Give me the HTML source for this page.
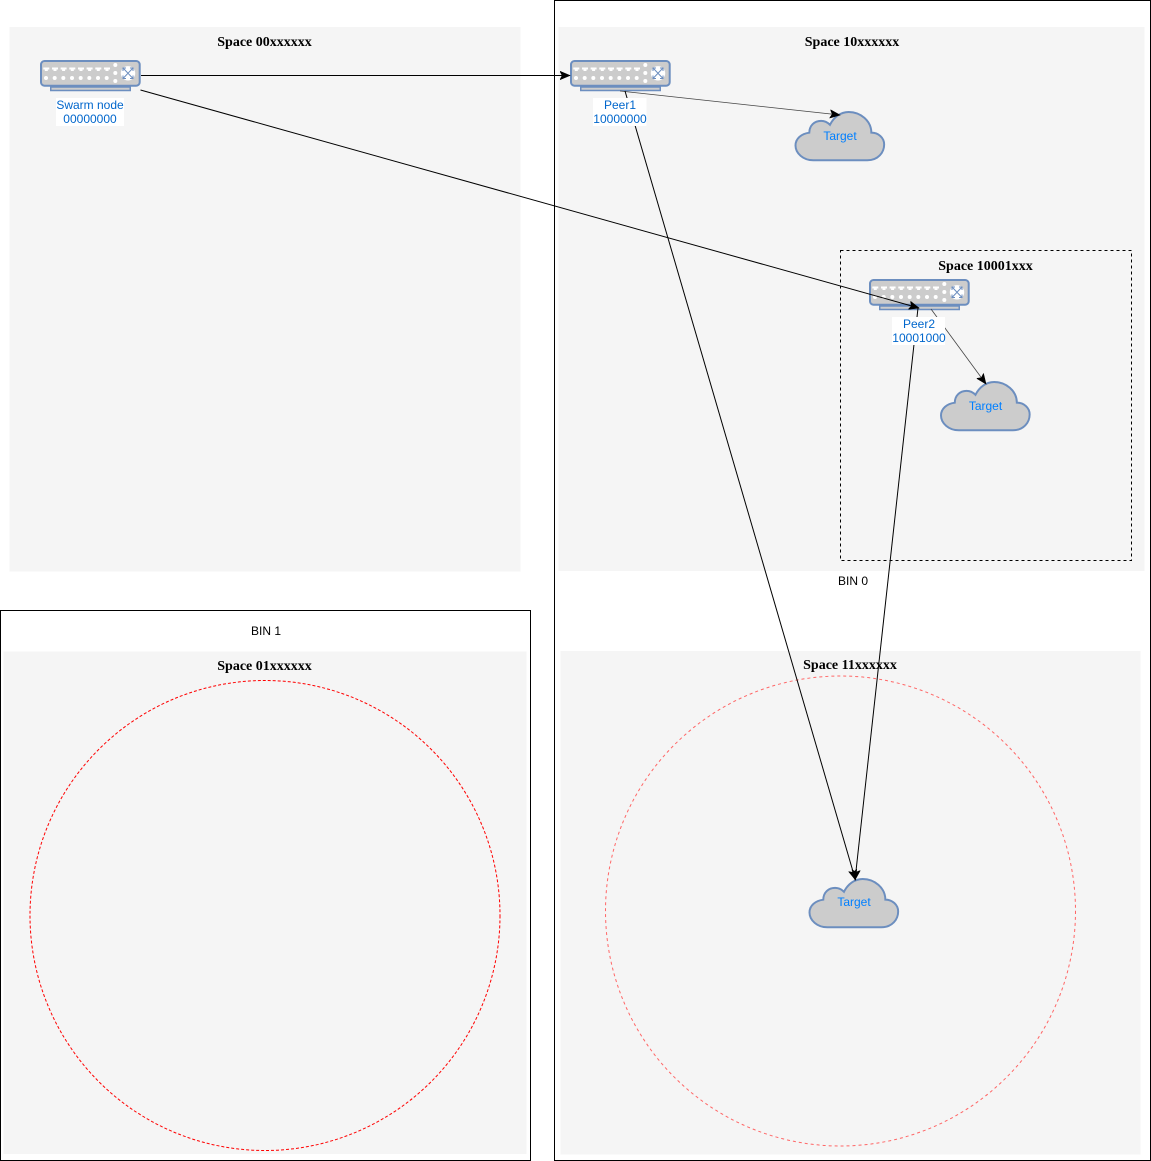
<!DOCTYPE html>
<html>
<head>
<meta charset="utf-8">
<style>
html,body{margin:0;padding:0;background:#fff;}
svg{display:block;}
.t{font-family:"Liberation Serif",serif;font-weight:bold;font-size:14px;text-anchor:middle;fill:#000;}
.b{font-family:"Liberation Sans",sans-serif;font-size:12px;text-anchor:middle;fill:#000;}
.l{font-family:"Liberation Sans",sans-serif;font-size:12px;text-anchor:middle;fill:#0066cc;}
.c{font-family:"Liberation Sans",sans-serif;font-size:12px;text-anchor:middle;fill:#007fff;}
</style>
</head>
<body>
<svg width="1151" height="1161" viewBox="0 0 1151 1161" xmlns="http://www.w3.org/2000/svg">
<defs>
<marker id="a" markerUnits="userSpaceOnUse" markerWidth="12" markerHeight="12" refX="10" refY="5" orient="auto" viewBox="0 0 12 10">
<path d="M0 0.8L10 5L0 9.2L2.2 5Z" fill="#000" stroke="#000" stroke-width="0.6"/>
</marker>
<g id="sw">
<rect x="10.750" y="27" width="79.500" height="3.500" fill="#ccc" stroke="#6c8ebf" stroke-width="1.500"/>
<rect x="1" y="1" width="98.700" height="24.700" rx="3.500" fill="#ccc" stroke="#6c8ebf" stroke-width="2"/>
<g fill="#fff">
<path d="M3.300 7.500h6v2h-1.500v1.500h-3v-1.500h-1.500z"/><path d="M12 7.500h6v2h-1.500v1.500h-3v-1.500h-1.500z"/><path d="M20.600 7.500h6v2h-1.500v1.500h-3v-1.500h-1.500z"/><path d="M29.300 7.500h6v2h-1.500v1.500h-3v-1.500h-1.500z"/><path d="M38 7.500h6v2h-1.500v1.500h-3v-1.500h-1.500z"/><path d="M46.600 7.500h6v2h-1.500v1.500h-3v-1.500h-1.500z"/><path d="M55.300 7.500h6v2h-1.500v1.500h-3v-1.500h-1.500z"/><path d="M64 7.500h6v2h-1.500v1.500h-3v-1.500h-1.500z"/>
<circle cx="6" cy="18" r="2"/><circle cx="14.700" cy="18" r="2"/><circle cx="23.300" cy="18" r="2"/><circle cx="32" cy="18" r="2"/><circle cx="40.700" cy="18" r="2"/><circle cx="49.300" cy="18" r="2"/><circle cx="58" cy="18" r="2"/><circle cx="66.700" cy="18" r="2"/>
<circle cx="75.300" cy="5" r="2"/><circle cx="75.300" cy="13" r="2"/><circle cx="75.300" cy="21" r="2"/>
<circle cx="88" cy="13.300" r="7.200"/>
</g>
<g stroke="#6c8ebf" stroke-width="1" fill="none">
<path d="M83.500 8.500L92.500 18M92.500 8.500L83.500 18"/>
<path d="M83 11V8H86M93 11V8H90M83 15.500V18.500H86M93 15.500V18.500H90"/>
</g>
</g>
<path id="cl" transform="scale(0.985)" d="M18 50H73C84 50 90 42 90 34C90 27 84 22 77 22C77 10 66 1 54 1C46 1 39 6 35 14C32 11 29 10 26 10C19 10 14 15 14 22C6 23 0 28 0 35C0 43 8 50 18 50Z" fill="#ccc" stroke="#6c8ebf" stroke-width="2"/>
</defs>

<rect x="554.500" y="0.500" width="596" height="1160" fill="#fff" stroke="#000"/>
<rect x="0.500" y="610.500" width="530" height="550" fill="#fff" stroke="#000"/>

<rect x="9.500" y="27" width="511" height="544.500" fill="#f5f5f5"/>
<rect x="558.500" y="27" width="586" height="544" fill="#f5f5f5"/>
<rect x="3.500" y="651.500" width="523" height="502.500" fill="#f5f5f5"/>
<rect x="560.500" y="651" width="580" height="503.500" fill="#f5f5f5"/>

<rect x="840.500" y="250.500" width="291" height="310" fill="none" stroke="#000" stroke-dasharray="3 3"/>

<circle cx="265" cy="915.500" r="235" fill="none" stroke="#ff0000" stroke-dasharray="3 2"/>
<circle cx="840.500" cy="911" r="235" fill="none" stroke="#ff6666" stroke-dasharray="3 3"/>

<text class="t" x="264.500" y="46">Space 00xxxxxx</text>
<text class="t" x="852" y="46">Space 10xxxxxx</text>
<text class="t" x="985.500" y="270">Space 10001xxx</text>
<text class="t" x="264.500" y="670">Space 01xxxxxx</text>
<text class="t" x="850" y="669">Space 11xxxxxx</text>
<text class="b" x="853" y="585">BIN 0</text>
<text class="b" x="266" y="635">BIN 1</text>

<use href="#sw" x="40" y="60"/>
<use href="#sw" x="570" y="60"/>
<use href="#sw" x="869" y="279"/>

<use href="#cl" x="795.500" y="111"/>
<use href="#cl" x="941" y="381"/>
<use href="#cl" x="809.500" y="878"/>

<text class="c" x="840" y="140">Target</text>
<text class="c" x="985.500" y="410">Target</text>
<text class="c" x="854" y="906">Target</text>

<g stroke="#000" fill="none" stroke-width="1">
<line x1="141" y1="75.500" x2="570" y2="75.500" marker-end="url(#a)"/>
<line x1="140.500" y1="90" x2="919" y2="308" marker-end="url(#a)"/>
<line x1="620" y1="91" x2="840" y2="115" marker-end="url(#a)" stroke="#444" stroke-width="0.800"/>
<line x1="625" y1="91" x2="855.500" y2="880" marker-end="url(#a)"/>
<line x1="918" y1="308" x2="855" y2="880" marker-end="url(#a)"/>
<line x1="931" y1="309" x2="986" y2="384" marker-end="url(#a)" stroke="#444" stroke-width="0.800"/>
</g>

<rect x="56" y="98" width="68" height="28" fill="#fff"/>
<rect x="593" y="98" width="53.500" height="28" fill="#fff"/>
<rect x="892" y="317" width="53" height="28" fill="#fff"/>

<text class="l" x="90" y="109">Swarm node</text>
<text class="l" x="90" y="123">00000000</text>
<text class="l" x="620" y="109">Peer1</text>
<text class="l" x="620" y="123">10000000</text>
<text class="l" x="919" y="328">Peer2</text>
<text class="l" x="919" y="342">10001000</text>
</svg>
</body>
</html>
